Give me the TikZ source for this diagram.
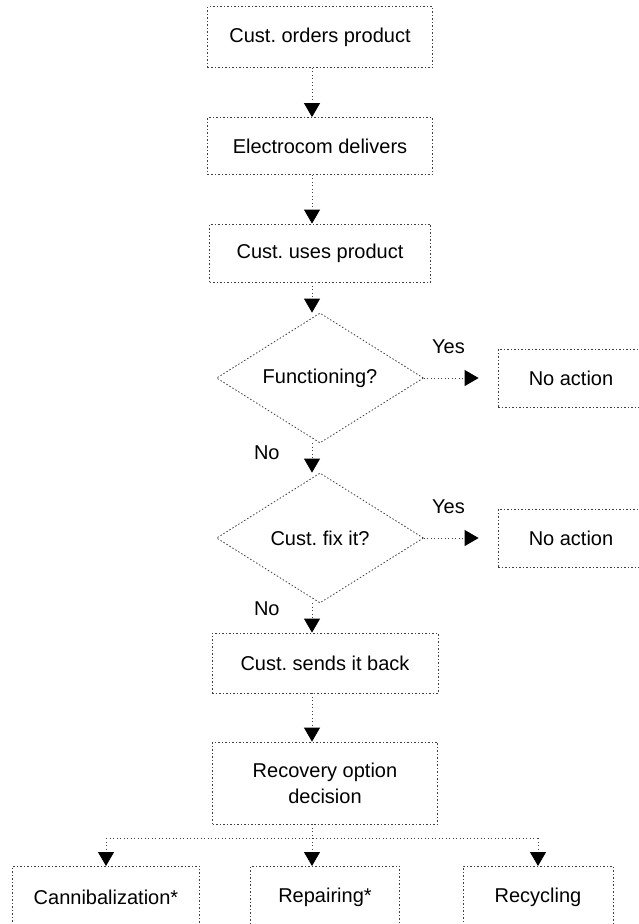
\documentclass[tikz,border=0pt]{standalone}
\usepackage{fontspec}
\setmainfont{Liberation Sans}
\usetikzlibrary{arrows.meta,shapes.geometric}
\frenchspacing

\begin{document}
\begin{tikzpicture}[x=1pt,y=-1pt,
  wire/.style={draw=black!75,line width=0.8pt,dash pattern=on 1pt off 2.5pt},
  conn/.style={wire,-{Triangle[width=16pt,length=14pt,color=black]}},
  stepbox/.style={wire,dash pattern=on 1.5pt off 2pt,minimum width=225pt,minimum height=58pt,inner sep=0pt,font=\fontsize{20}{26}\selectfont,align=center},
  choice/.style={diamond,wire,dash pattern=on 1.5pt off 2pt,minimum width=207pt,minimum height=130pt,aspect=1.6,inner sep=0pt,font=\fontsize{20}{26}\selectfont},
  lab/.style={inner sep=0pt,font=\fontsize{20}{24}\selectfont}]
\useasboundingbox (0,0) rectangle (639,924);
\clip (0,0) rectangle (639,924);
\node[stepbox,minimum height=61pt] (order) at (320,37) {Cust. orders product};
\node[stepbox,minimum height=57pt] (deliver) at (320,146) {Electrocom delivers};
\node[stepbox,minimum height=58pt,minimum width=221pt] (use) at (320,253) {Cust. uses product};
\node[choice] (work) at (320,378) {Functioning?};
\node[stepbox,minimum width=146pt] (none1) at (571,378) {No action};
\node[choice] (fix) at (320,538) {Cust. fix it?};
\node[stepbox,minimum width=146pt] (none2) at (571,538) {No action};
\node[stepbox,minimum width=226pt,minimum height=60pt] (back) at (325,663) {Cust. sends it back};
\node[stepbox,minimum height=82pt] (recov) at (325,783) {Recovery option\\decision};
\node[stepbox,minimum width=187pt,minimum height=62pt,anchor=north] (cann) at (106,866) {Cannibalization*};
\node[stepbox,minimum width=149pt,minimum height=62pt,anchor=north] (rep) at (325,866) {Repairing*};
\node[stepbox,minimum width=150pt,minimum height=62pt,anchor=north] (recy) at (538,866) {Recycling};
\coordinate (ax) at (312,0);
\draw[conn] (order.south -| ax) -- (deliver.north -| ax);
\draw[conn] (deliver.south -| ax) -- (use.north -| ax);
\draw[conn] (use.south -| ax) -- (work.north -| ax);
\draw[conn] (work.east) -- node[lab,above=24pt,pos=0.45]{Yes} ([xshift=-19pt]none1.west);
\draw[conn] (work.south -| ax) -- node[lab,left=32pt,pos=0.33]{No} (fix.north -| ax);
\draw[conn] (fix.east) -- node[lab,above=24pt,pos=0.45]{Yes} ([xshift=-19pt]none2.west);
\draw[conn] (fix.south -| ax) -- node[lab,left=32pt,pos=0.17]{No} (back.north -| ax);
\draw[conn] (back.south -| ax) -- (recov.north -| ax);
\draw[wire] (recov.south -| ax) -- ++(0,14) coordinate (split);
\draw[wire] (split -| cann) -- (split -| recy);
\draw[conn] (split -| cann) -- (cann.north);
\draw[conn] (split) -- (rep.north -| ax);
\draw[conn] (split -| recy) -- (recy.north);
\end{tikzpicture}
\end{document}
